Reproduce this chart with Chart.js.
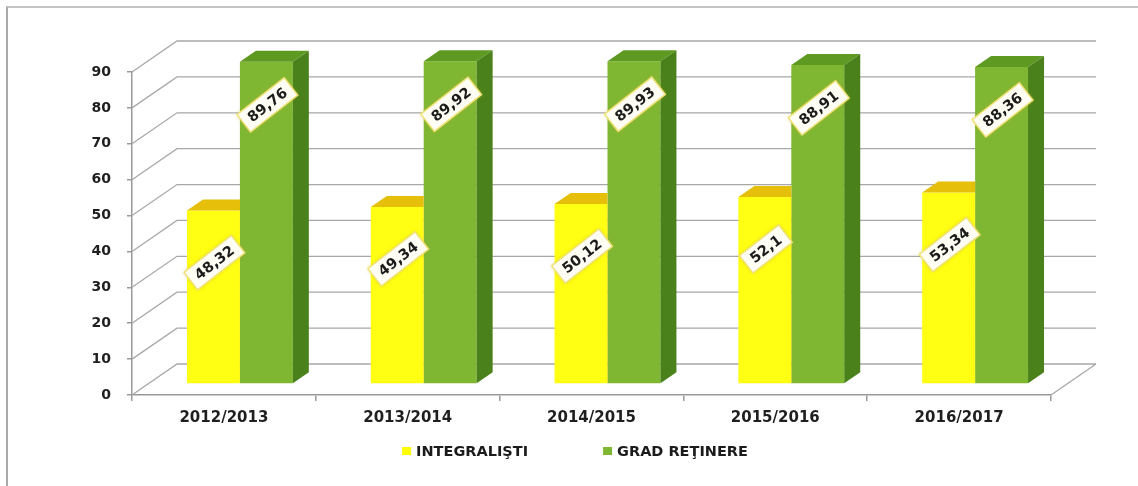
<!DOCTYPE html>
<html>
<head>
<meta charset="utf-8">
<script src="https://cdn.jsdelivr.net/npm/chart.js@4"></script>
<style>
  html, body { margin: 0; padding: 0; background: #fff; }
  #wrap { position: relative; width: 1138px; height: 486px; overflow: hidden; }
  #frame { position: absolute; left: 6px; top: 6px; width: 1200px; height: 600px;
           border-left: 2px solid #a9a9a9; border-top: 2px solid #c4c4c4; }
  canvas { position: absolute; left: 0; top: 0; }
</style>
</head>
<body>
<div id="wrap">
  <div id="frame"></div>
  <canvas id="chart" width="1138" height="486"></canvas>
</div>
<script>
/* ── DATA ────────────────────────────────────────────────── */
const categories   = ["2012/2013", "2013/2014", "2014/2015", "2015/2016", "2016/2017"];
const seriesNames  = ["INTEGRALIŞTI", "GRAD REŢINERE"];
const integralisti = [48.32, 49.34, 50.12, 52.1, 53.34];
const gradRetinere = [89.76, 89.92, 89.93, 88.91, 88.36];
const yTickValues  = [0, 10, 20, 30, 40, 50, 60, 70, 80, 90];

/* ── LOOK ────────────────────────────────────────────────── */
const FONT   = "'DejaVu Sans', sans-serif";
const WALL   = { dx: 45, dy: 31 };   // depth of the back wall
const SHIFT  = { dx: 16, dy: 11 };   // bars sit this far behind the front plane
const DEPTH  = { dx: 16, dy: 11 };   // thickness of each bar
const GRID   = "#a8a8a8";
const faces  = [
  { front: "#ffff14", key: "#ffff00", top: "#e6bf0a", side: "#d4b000", labelDrop: 52 },
  { front: "#7fb733", key: "#7fb733", top: "#5e9a22", side: "#4a811a", labelDrop: 43 }
];

const fmt = v => String(v).replace(".", ",");

/* ── 3D PLUGIN ───────────────────────────────────────────── */
const threeD = {
  id: "threeD",
  beforeDatasetsDraw(chart) {
    const { ctx, chartArea: a, scales: { y } } = chart;
    ctx.save();
    ctx.strokeStyle = GRID;
    ctx.lineWidth = 1.3;
    // left wall diagonals + back wall lines
    yTickValues.forEach(v => {
      const py = y.getPixelForValue(v);
      ctx.beginPath();
      ctx.moveTo(a.left, py);
      ctx.lineTo(a.left + WALL.dx, py - WALL.dy);
      ctx.lineTo(a.right + WALL.dx, py - WALL.dy);
      ctx.stroke();
    });
    // floor right edge
    const p0 = y.getPixelForValue(0);
    ctx.beginPath();
    ctx.moveTo(a.right, p0);
    ctx.lineTo(a.right + WALL.dx, p0 - WALL.dy);
    ctx.stroke();
    ctx.restore();

    ctx.save();
    ctx.translate(SHIFT.dx, -SHIFT.dy);
  },
  afterDatasetDraw(chart, args) {
    const { ctx } = chart;
    const f = faces[args.index];
    // Chart.js paints the last dataset first; the taller green bar to the
    // right would hide the yellow side, so cut the yellow faces at its edge
    const hidden = args.index < chart.data.datasets.length - 1;
    args.meta.data.forEach(bar => {
      const { x, y, base, width } = bar.getProps(["x", "y", "base", "width"], true);
      const l = x - width / 2, r = x + width / 2;
      ctx.save();
      if (hidden) {
        ctx.beginPath();
        ctx.rect(l - 1, 0, r - l + 1, chart.height);
        ctx.clip();
      }
      ctx.fillStyle = f.top;
      ctx.beginPath();
      ctx.moveTo(l, y);
      ctx.lineTo(l + DEPTH.dx, y - DEPTH.dy);
      ctx.lineTo(r + DEPTH.dx, y - DEPTH.dy);
      ctx.lineTo(r, y);
      ctx.closePath();
      ctx.fill();
      ctx.fillStyle = f.side;
      ctx.beginPath();
      ctx.moveTo(r, y);
      ctx.lineTo(r + DEPTH.dx, y - DEPTH.dy);
      ctx.lineTo(r + DEPTH.dx, base - DEPTH.dy);
      ctx.lineTo(r, base);
      ctx.closePath();
      ctx.fill();
      ctx.restore();
    });
  },
  afterDatasetsDraw(chart) {
    const { ctx } = chart;
    ctx.restore();
    // value labels
    chart.data.datasets.forEach((ds, di) => {
      const meta = chart.getDatasetMeta(di);
      meta.data.forEach((bar, i) => {
        const cx = bar.x + SHIFT.dx + 1;
        const cy = bar.y - SHIFT.dy + faces[di].labelDrop;
        const txt = fmt(ds.data[i]);
        ctx.save();
        ctx.translate(cx, cy);
        ctx.rotate(-38 * Math.PI / 180);
        ctx.font = `bold 14.5px ${FONT}`;
        const w = ctx.measureText(txt).width + 14, h = 22;
        ctx.shadowColor = "rgba(200,180,40,0.55)";
        ctx.shadowBlur = 4;
        ctx.fillStyle = "#fffef4";
        ctx.fillRect(-w / 2, -h / 2, w, h);
        ctx.shadowBlur = 0;
        ctx.strokeStyle = "#f1e27a";
        ctx.lineWidth = 1.5;
        ctx.strokeRect(-w / 2, -h / 2, w, h);
        ctx.fillStyle = "#1b1b1b";
        ctx.textAlign = "center";
        ctx.textBaseline = "middle";
        ctx.fillText(txt, 0, 1);
        ctx.restore();
      });
    });
  },
  afterDraw(chart) {
    // legend
    const { ctx, width } = chart;
    const ly = 451;
    ctx.save();
    ctx.font = `bold 14.5px ${FONT}`;
    ctx.textBaseline = "middle";
    const box = 9, gap = 5, spacing = 75;
    const items = chart.data.datasets.map((ds, i) => ({ text: ds.label, color: faces[i].key, w: ctx.measureText(ds.label).width }));
    const total = items.reduce((s, it) => s + box + gap + it.w, 0) + spacing * (items.length - 1);
    let lx = width / 2 + 6 - total / 2;
    items.forEach(it => {
      ctx.fillStyle = it.color;
      ctx.fillRect(lx, ly - 4, box, 8);
      ctx.fillStyle = "#1b1b1b";
      ctx.fillText(it.text, lx + box + gap, ly + 1);
      lx += box + gap + it.w + spacing;
    });
    ctx.restore();
  }
};

/* ── CHART ───────────────────────────────────────────────── */
new Chart(document.getElementById("chart"), {
  type: "bar",
  data: {
    labels: categories,
    datasets: [
      { label: seriesNames[0], data: integralisti, backgroundColor: faces[0].front, borderWidth: 0 },
      { label: seriesNames[1], data: gradRetinere, backgroundColor: faces[1].front, borderWidth: 0 }
    ]
  },
  options: {
    responsive: false,
    animation: false,
    devicePixelRatio: 1,
    categoryPercentage: 0.576,
    barPercentage: 1.0,
    layout: { padding: { top: 72, right: 87, bottom: 51, left: 0 } },
    plugins: { legend: { display: false }, tooltip: { enabled: false } },
    scales: {
      x: {
        afterFit: s => { s.height = 40; },
        border: { display: true, color: "#9a9a9a", width: 1.5 },
        grid: { offset: true, drawOnChartArea: false, tickLength: 6, color: "#9a9a9a", lineWidth: 1.5 },
        ticks: { color: "#1f1f1f", padding: 8, font: { family: FONT, size: 15, weight: "bold" } }
      },
      y: {
        min: 0, max: 90,
        afterFit: s => { s.width = 132; },
        border: { display: true, color: "#9a9a9a", width: 1.5 },
        grid: { drawOnChartArea: false, tickLength: 5, color: "#9a9a9a", lineWidth: 1.5 },
        ticks: { stepSize: 10, color: "#1f1f1f", padding: 16, font: { family: FONT, size: 14, weight: "bold" } }
      }
    }
  },
  plugins: [threeD]
});
</script>
</body>
</html>
